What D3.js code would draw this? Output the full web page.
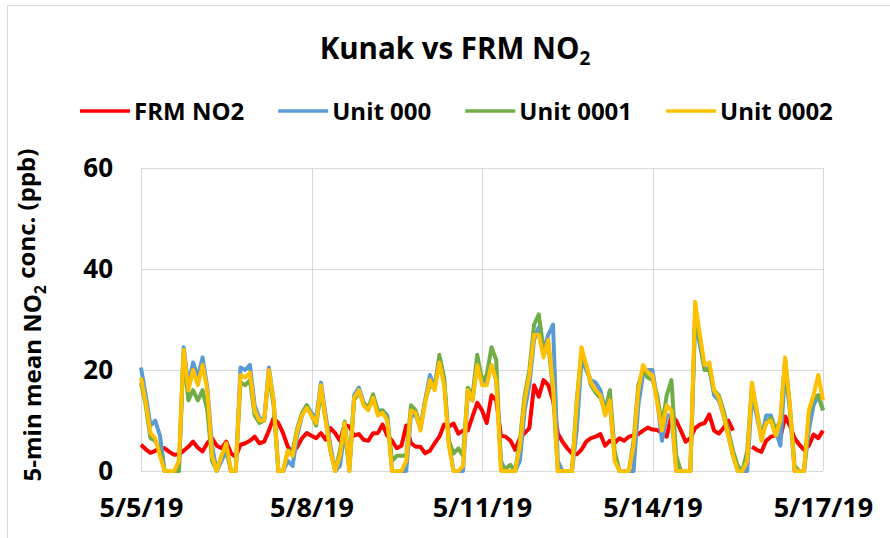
<!DOCTYPE html>
<html>
<head>
<meta charset="utf-8">
<script src="https://cdn.jsdelivr.net/npm/d3@7"></script>
<style>
    body { margin: 0; background: #fff; }
    svg text { font-family: "Open Sans", sans-serif; font-weight: bold; fill: #000; }
</style>
</head>
<body>
<div id="chart"></div>
<script>
// lecturas cada 2 horas desde 5/5/19 00:00 hasta 5/17/19 00:00
const startTime = "5/5/19";
const stepHours = 2;

const frmNO2 = [
    5.2, 4.3, 3.6, 4, 4.6, 4.5, 3.8, 3.2, 3.3, 4, 4.8, 5.8, 4.6, 3.9, 5.5, 6.5, 5, 4.5, 5.8, 3.5, 2.8, 5.2, 5.5, 6, 6.8, 5.5, 5.8, 8, 10.5, 9.5, 7.5, 4.8, 3.5, 4.8, 6.5, 7.5, 7,
    6.5, 7.5, 6.2, 8.5, 7.5, 6, 9.2, 8.8, 7, 7.3, 6.2, 6, 7.5, 7.5, 9.2, 7, 6, 4.5, 5, 9, 5.5, 4.8, 4.8, 3.5, 4, 5.5, 6.8, 9.2, 8.8, 9.4, 7.4, 8, 8, 10.8, 13.5, 12,
    9.5, 15, 14, 7, 6.8, 6, 4.2, 6.5, 7.5, 8.5, 17, 14.7, 18, 17, 14, 7.5, 5.8, 4.5, 3.5, 3.3, 4.2, 5.8, 6.5, 6.8, 7.3, 5, 6, 5.5, 6.5, 6, 6.8, 7, 7.3, 8, 8.6, 8.2,
    8.1, 7.5, 6.8, 11, 10, 8, 5.8, 6.5, 8.5, 9.2, 9.5, 11.2, 8, 7.4, 8.5, 10, 8, null, null, null, 4.8, 4.2, 3.8, 6, 6.8, 7, 6.5, 10.8, 9, 6.5, 5.2, 4.2, 5, 7.2, 6.5, 8
];

const unit000 = [
    20.5, 15, 9, 10, 7, 0, 0, 0, 0, 24.5, 17, 21.5, 18.5, 22.5, 16.5, 5, 0, 2, 4, 0, 0, 20.5, 20, 21, 13, 10.5, 10, 20.5, 14, 0, 0, 2, 1, 7, 11, 13, 11.5,
    10.5, 17.5, 11, 5, 0, 1, 8, 0, 15, 16.5, 13.5, 12.5, 14.5, 11.5, 12, 11, 0, 0, 0, 0, 11, 11, 8.5, 14, 19, 16.5, 22, 18, 5.5, 0, 0, 0, 15, 14, 21.5, 17.5,
    18, 21, 18, 2, 0, 0, 0, 2, 12, 17, 26, 28.5, 24, 27, 29, 2, 0, 0, 0, 8, 22, 20, 18, 17.5, 16, 12, 13, 3, 0, 0, 0, 0, 13, 19, 20, 20,
    14, 6, 11, 11, 0, 0, 0, 0, 30, 25, 20, 20.5, 15, 14, 11, 7, 3, 0, 0, 0, 15, 11, 6.5, 11, 11, 8, 5, 20, 12, 0, 0, 0, 8, 13, 15, 12
];

const unit0001 = [
    17.5, 13, 6.5, 6, 4, 0, 0, 0, 0, 23.5, 14, 16, 14, 16, 12, 2, 0, 3, 5, 0, 0, 17.5, 17, 18, 11, 9.5, 10, 19, 13, 0, 0, 4, 4, 8.5, 11.5, 13, 11,
    9, 16, 10, 4, 0, 4, 9.8, 1, 14, 15.5, 13.5, 12.5, 15.2, 12, 12, 10.5, 2, 3, 3, 3, 13, 12, 8.5, 14, 17, 16.5, 23, 18.5, 6, 3.5, 4.5, 3, 16.5, 15, 23, 18,
    19, 24.5, 22, 1, 0.5, 1.2, 0, 6, 15, 20, 29, 31, 24, 25, 16, 0, 0, 0, 0, 14, 23.5, 21, 17, 15.5, 14.5, 12, 16, 4, 0, 0, 0, 6, 17, 20, 18.5, 18,
    15, 9, 15, 18, 3, 0, 0, 0, 31, 26, 20, 20, 16, 15, 12, 8, 4, 1, 0, 4, 17, 12, 7, 9.5, 10.5, 8, 10, 22, 13, 1, 0, 0, 11, 14.5, 15, 12
];

const unit0002 = [
    18.5, 13.5, 7.5, 6.5, 3, 0, 0, 0, 2, 24, 16, 20, 17, 21, 16, 3, 0, 3, 5.5, 0, 0, 19, 18.5, 19.5, 12, 10, 10, 20, 14, 0, 0, 4, 3, 8, 11, 12.5, 11,
    9.5, 17, 10, 4, 0, 3, 9.5, 0, 14.5, 16, 13, 12, 14.5, 11, 11.5, 10, 0, 0, 0, 2, 12, 11.5, 8, 13.5, 18, 16, 21.5, 17, 5, 0, 0, 1, 16, 14, 21, 17,
    17, 21, 18, 0, 0, 0, 0, 5, 14, 19, 27, 27, 22.5, 26, 17, 0, 0, 0, 0, 13, 24.5, 21, 17.5, 16, 15, 11, 14, 2, 0, 0, 0, 5, 16, 21, 19.5, 19,
    13.5, 8, 13, 12, 0, 0, 0, 0, 33.5, 27, 21, 21.5, 16, 14.5, 11, 7, 3, 0, 0, 2, 17.5, 12, 6, 9.5, 10, 7, 10, 22.5, 13, 0, 0, 0, 12, 15, 19, 14
];

const seriesNames = ["FRM NO2", "Unit 000", "Unit 0001", "Unit 0002"];
const seriesColors = ["#ff0000", "#5b9bd5", "#70ad47", "#ffc000"];
const xTickLabels = ["5/5/19", "5/8/19", "5/11/19", "5/14/19", "5/17/19"];
const yTicks = [0, 20, 40, 60];

const width = 890;
const height = 538;
const plot = {left: 141, right: 823, top: 168, bottom: 471};

const parseDate = d3.timeParse("%m/%d/%y");
const t0 = parseDate(startTime);
const times = frmNO2.map((d, i) => d3.timeHour.offset(t0, i * stepHours));
const xTickDates = xTickLabels.map(parseDate);

const allSeries = [frmNO2, unit000, unit0001, unit0002].map((values, i) => ({
    name: seriesNames[i],
    color: seriesColors[i],
    points: values.map((v, j) => ({t: times[j], v: v}))
}));

const svg = d3.select("#chart").append("svg")
    .attr("width", width)
    .attr("height", height);

svg.append("rect")
    .attr("x", 7.5).attr("y", 5.5)
    .attr("width", width).attr("height", height)
    .attr("fill", "#fff")
    .attr("stroke", "#d9d9d9");

const x = d3.scaleTime()
    .domain([xTickDates[0], xTickDates[xTickDates.length - 1]])
    .range([plot.left, plot.right]);

const y = d3.scaleLinear()
    .domain([0, 60])
    .range([plot.bottom, plot.top]);

// rejilla
svg.append("g")
    .selectAll("line.h")
    .data(yTicks)
    .enter().append("line")
    .attr("x1", plot.left).attr("x2", plot.right)
    .attr("y1", d => Math.round(y(d)) + 0.5).attr("y2", d => Math.round(y(d)) + 0.5)
    .attr("stroke", "#d9d9d9");

svg.append("g")
    .selectAll("line.v")
    .data(xTickDates)
    .enter().append("line")
    .attr("x1", d => Math.round(x(d)) + 0.5).attr("x2", d => Math.round(x(d)) + 0.5)
    .attr("y1", plot.top).attr("y2", plot.bottom)
    .attr("stroke", "#d9d9d9");

// ejes
const xAxis = svg.append("g")
    .attr("transform", `translate(0,${plot.bottom})`)
    .call(d3.axisBottom(x)
        .tickValues(xTickDates)
        .tickFormat((d, i) => xTickLabels[i])
        .tickSize(0)
        .tickPadding(27));
xAxis.select(".domain").remove();
xAxis.selectAll("text").style("font-size", "27px");

const yAxis = svg.append("g")
    .attr("transform", `translate(${plot.left},0)`)
    .call(d3.axisLeft(y)
        .tickValues(yTicks)
        .tickSize(0)
        .tickPadding(28));
yAxis.select(".domain").remove();
yAxis.selectAll("text").style("font-size", "26px");

// lineas
const line = d3.line()
    .defined(d => d.v !== null)
    .x(d => x(d.t))
    .y(d => y(d.v));

svg.append("g")
    .selectAll("path")
    .data(allSeries)
    .enter().append("path")
    .attr("fill", "none")
    .attr("stroke", d => d.color)
    .attr("stroke-width", 4)
    .attr("stroke-linejoin", "round")
    .attr("d", d => line(d.points));

// titulo
const title = svg.append("text")
    .attr("x", 455)
    .attr("y", 59)
    .attr("text-anchor", "middle")
    .style("font-size", "29.5px");
title.append("tspan").text("Kunak vs FRM NO");
title.append("tspan").attr("dy", "0.3em").style("font-size", "19px").text("2");

// titulo eje y
const yTitle = svg.append("text")
    .attr("transform", "translate(41,315) rotate(-90)")
    .attr("text-anchor", "middle")
    .style("font-size", "24px");
yTitle.append("tspan").text("5-min mean NO");
yTitle.append("tspan").attr("dy", "0.3em").style("font-size", "16px").text("2");
yTitle.append("tspan").attr("dy", "-0.45em").text(" conc. (ppb)");

// leyenda
const legendY = 111;
let legendX = 80;
allSeries.forEach(s => {
    svg.append("line")
        .attr("x1", legendX).attr("x2", legendX + 50)
        .attr("y1", legendY).attr("y2", legendY)
        .attr("stroke", s.color)
        .attr("stroke-width", 3.5);
    const label = svg.append("text")
        .attr("x", legendX + 54)
        .attr("y", legendY)
        .attr("dy", "0.36em")
        .style("font-size", "24px")
        .text(s.name);
    legendX += 54 + label.node().getComputedTextLength() + 34;
});
</script>
</body>
</html>
